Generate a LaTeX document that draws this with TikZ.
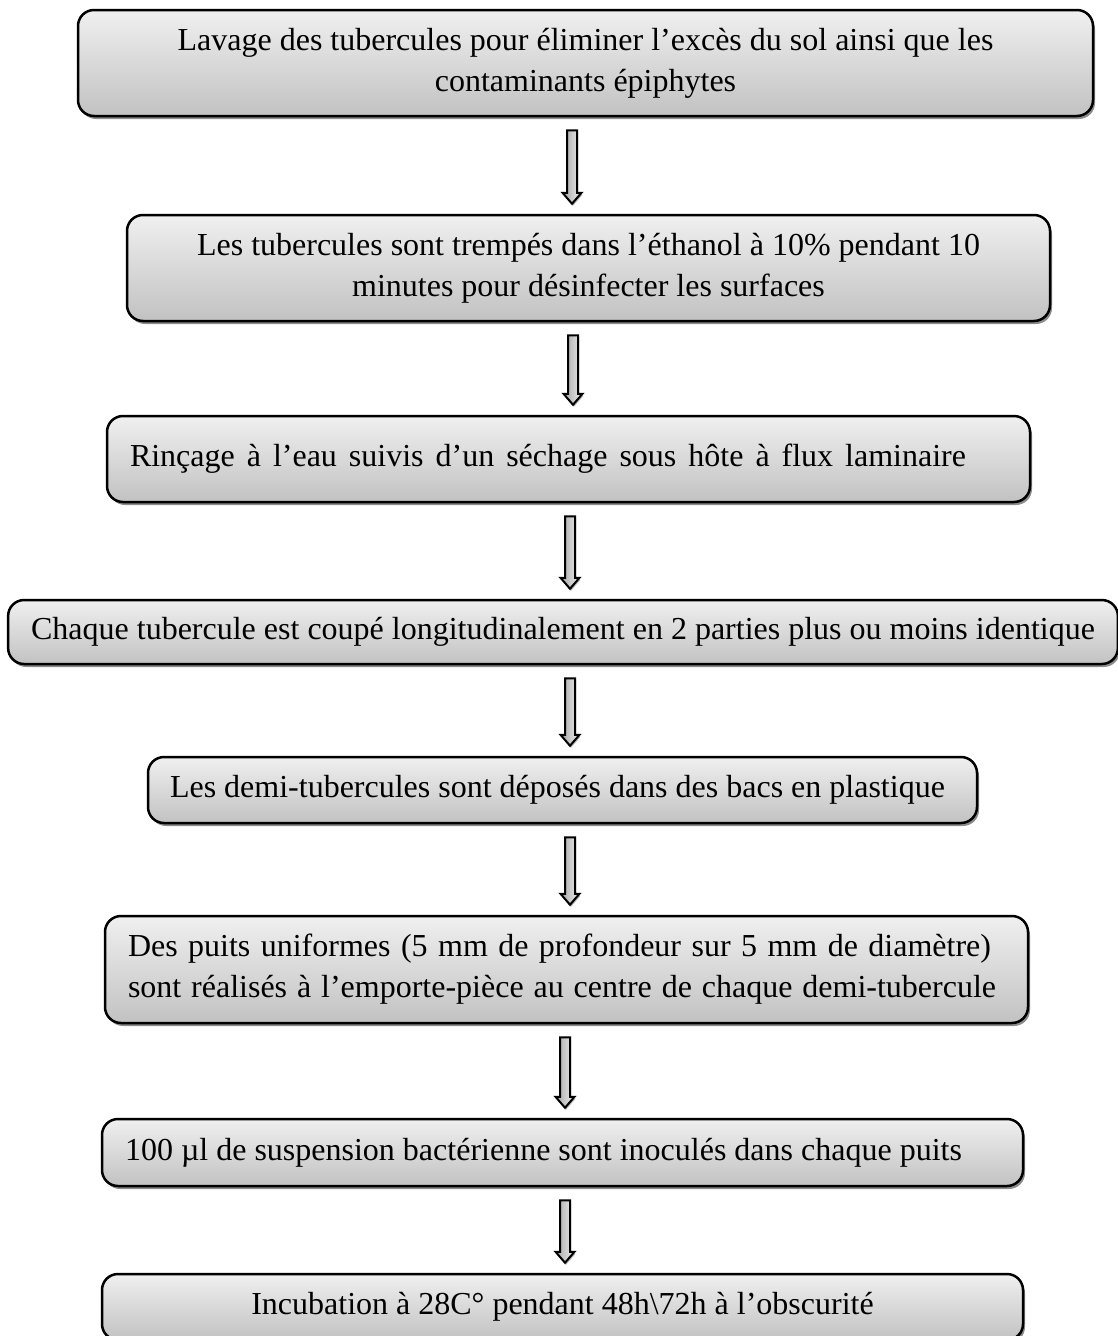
\documentclass[tikz,border=0pt]{standalone}
\usepackage{fontspec}
\setmainfont{Liberation Serif}
\usepackage{tikz}
\usetikzlibrary{calc,shadows}

\tikzset{
	etape/.style={rectangle, rounded corners=16pt, draw=black, line width=2.5pt,
		top color=black!6, bottom color=black!24,
		drop shadow={shadow xshift=2pt, shadow yshift=-3pt, fill=black!45, opacity=1},
		font=\fontsize{32}{41}\selectfont, inner xsep=23pt, inner ysep=0pt},
	fleche/.style={draw=black, line width=2pt, line join=miter,
		left color=black!35, right color=black!6,
		drop shadow={shadow xshift=1pt, shadow yshift=-2pt, fill=black!30, opacity=1}}
}

\newcommand{\flowarrow}[3]{%
	\path[fleche] let \p1=(#1.south), \p2=(#2.north) in
		(#3pt-5pt,\y1-13pt) -- (#3pt+5pt,\y1-13pt) -- (#3pt+5pt,\y2+21pt) -- (#3pt+9.5pt,\y2+21pt)
		-- (#3pt,\y2+10pt) -- (#3pt-9.5pt,\y2+21pt) -- (#3pt-5pt,\y2+21pt) -- cycle;}

\begin{document}
\begin{tikzpicture}[x=1pt,y=-1pt]
		\useasboundingbox (0,0) rectangle (1118,1336);

		\node[etape, minimum width=1015, minimum height=106, align=center] (lavage) at (585.5,63)
			{Lavage des tubercules pour éliminer l’excès du sol ainsi que les\\contaminants épiphytes};
		\node[etape, minimum width=923, minimum height=106, align=center] (ethanol) at (588.5,268)
			{Les tubercules sont trempés dans l’éthanol à 10\% pendant 10\\minutes pour désinfecter les surfaces};
		\node[etape, text width=877, minimum height=86, align=flush left] (rincage) at (568.5,459)
			{\makebox[836pt][s]{Rinçage à l’eau suivis d’un séchage sous hôte à flux laminaire}};
		\node[etape, minimum width=1108, minimum height=64, align=center] (coupe) at (563,632)
			{Chaque tubercule est coupé longitudinalement en 2 parties plus ou moins identique};
		\node[etape, inner xsep=22pt, text width=785, minimum height=66, align=flush left] (bacs) at (562.5,790)
			{\mbox{Les demi-tubercules sont déposés dans des bacs en plastique}};
		\node[etape, text width=877, minimum height=107, align=flush left] (puits) at (566.5,969.5)
			{\makebox[863pt][s]{Des puits uniformes (5 mm de profondeur sur 5 mm de diamètre)}\\\makebox[868pt][s]{sont réalisés à l’emporte-pièce au centre de chaque demi-tubercule}};
		\node[etape, text width=875, minimum height=67, align=flush left] (inoc) at (562.5,1152.5)
			{\mbox{100 µl de suspension bactérienne sont inoculés dans chaque puits}};
		\node[etape, minimum width=921, minimum height=66, align=center] (incub) at (562.5,1307)
			{Incubation à 28C° pendant 48h\textbackslash72h à l’obscurité};

		\flowarrow{lavage}{ethanol}{572}
		\flowarrow{ethanol}{rincage}{573}
		\flowarrow{rincage}{coupe}{570}
		\flowarrow{coupe}{bacs}{570}
		\flowarrow{bacs}{puits}{570}
		\flowarrow{puits}{inoc}{565}
		\flowarrow{inoc}{incub}{565}
	\end{tikzpicture}
\end{document}
